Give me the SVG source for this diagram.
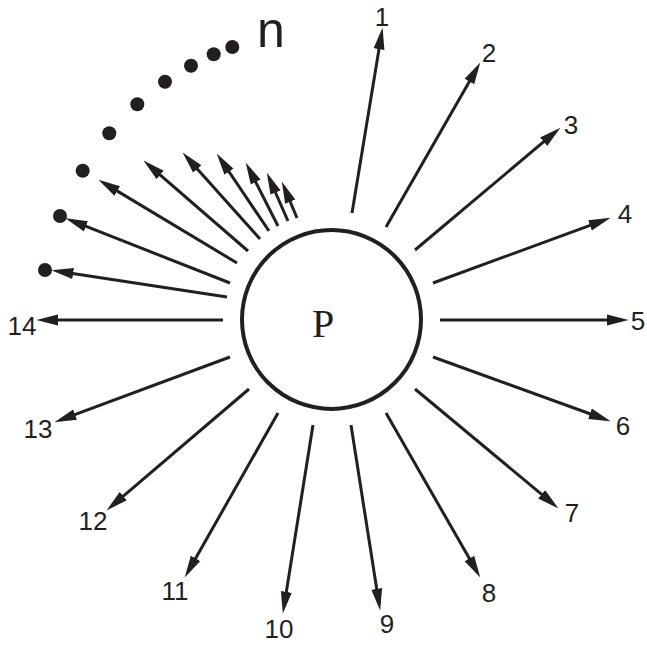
<svg xmlns="http://www.w3.org/2000/svg" width="647" height="645" viewBox="0 0 647 645">
<style>
.c{stroke:#231f20;stroke-width:3;fill:none;marker-end:url(#ah)}
.lb{font-family:"Liberation Sans",Arial,sans-serif;font-size:26px;fill:#231f20;text-anchor:middle}
.d{fill:#231f20}
</style>
<defs>
<marker id="ah" markerUnits="userSpaceOnUse" markerWidth="22" markerHeight="12" refX="14" refY="5" orient="auto" viewBox="0 0 20 10">
<path d="M0,0 L20,5 L0,10 Z" fill="#231f20"/>
</marker>
</defs>
<rect width="647" height="645" fill="#fff"/>
<g id="P">
<circle cx="331.5" cy="319.5" r="89.5" fill="none" stroke="#231f20" stroke-width="4"/>
<text x="323" y="337" font-family="Liberation Serif,Times New Roman,serif" font-size="40" fill="#231f20" text-anchor="middle">P</text>
</g>
<g id="connectors">
<line class="c" x1="352" y1="213" x2="381.5" y2="33.9"/>
<line class="c" x1="386" y1="227" x2="477" y2="68.2"/>
<line class="c" x1="415" y1="250" x2="555.4" y2="131.9"/>
<line class="c" x1="433" y1="283" x2="604.4" y2="220.1"/>
<line class="c" x1="440" y1="320" x2="622" y2="320"/>
<line class="c" x1="433" y1="357" x2="604.4" y2="419"/>
<line class="c" x1="415" y1="389" x2="553.4" y2="504.2"/>
<line class="c" x1="386" y1="413" x2="477" y2="571.8"/>
<line class="c" x1="351" y1="425" x2="379.1" y2="604.1"/>
<line class="c" x1="313" y1="425" x2="283.9" y2="607.1"/>
<line class="c" x1="278" y1="413" x2="188" y2="571.8"/>
<line class="c" x1="249" y1="389" x2="111.6" y2="506.1"/>
<line class="c" x1="230" y1="357" x2="60.6" y2="419.9"/>
<line class="c" x1="223" y1="320" x2="43" y2="320"/>
<line class="c" x1="227" y1="297" x2="57.9" y2="271.2"/>
<line class="c" x1="230" y1="283" x2="71.6" y2="220.7"/>
<line class="c" x1="237" y1="263" x2="104.1" y2="183.1"/>
<line class="c" x1="248" y1="251" x2="148.5" y2="164.9"/>
<line class="c" x1="260" y1="239" x2="187" y2="157.5"/>
<line class="c" x1="269" y1="231" x2="220.4" y2="159"/>
<line class="c" x1="278" y1="226" x2="248.7" y2="168.3"/>
<line class="c" x1="288" y1="221" x2="269.4" y2="178.5"/>
<line class="c" x1="297" y1="218" x2="284.3" y2="187.5"/>
</g>
<g id="dots">
<circle class="d" cx="45" cy="270" r="7"/>
<circle class="d" cx="60" cy="216" r="7"/>
<circle class="d" cx="82.7" cy="170.7" r="7"/>
<circle class="d" cx="109.3" cy="133.3" r="7"/>
<circle class="d" cx="137.3" cy="104.3" r="7"/>
<circle class="d" cx="165" cy="81.7" r="7"/>
<circle class="d" cx="191" cy="65.7" r="7"/>
<circle class="d" cx="213.7" cy="54.3" r="7"/>
<circle class="d" cx="232.3" cy="47" r="7"/>
</g>
<g id="labels">
<text class="lb" x="382" y="26">1</text>
<text class="lb" x="489" y="62">2</text>
<text class="lb" x="571" y="134">3</text>
<text class="lb" x="625" y="223">4</text>
<text class="lb" x="638" y="330">5</text>
<text class="lb" x="623" y="435">6</text>
<text class="lb" x="572" y="522">7</text>
<text class="lb" x="489" y="602">8</text>
<text class="lb" x="387" y="633">9</text>
<text class="lb" x="279" y="638">10</text>
<text class="lb" x="175" y="600">11</text>
<text class="lb" x="93" y="530">12</text>
<text class="lb" x="38" y="438">13</text>
<text class="lb" x="22" y="335">14</text>
<text x="257" y="47" font-family="Liberation Sans,Arial,sans-serif" font-size="50" fill="#231f20">n</text>
</g>
</svg>
